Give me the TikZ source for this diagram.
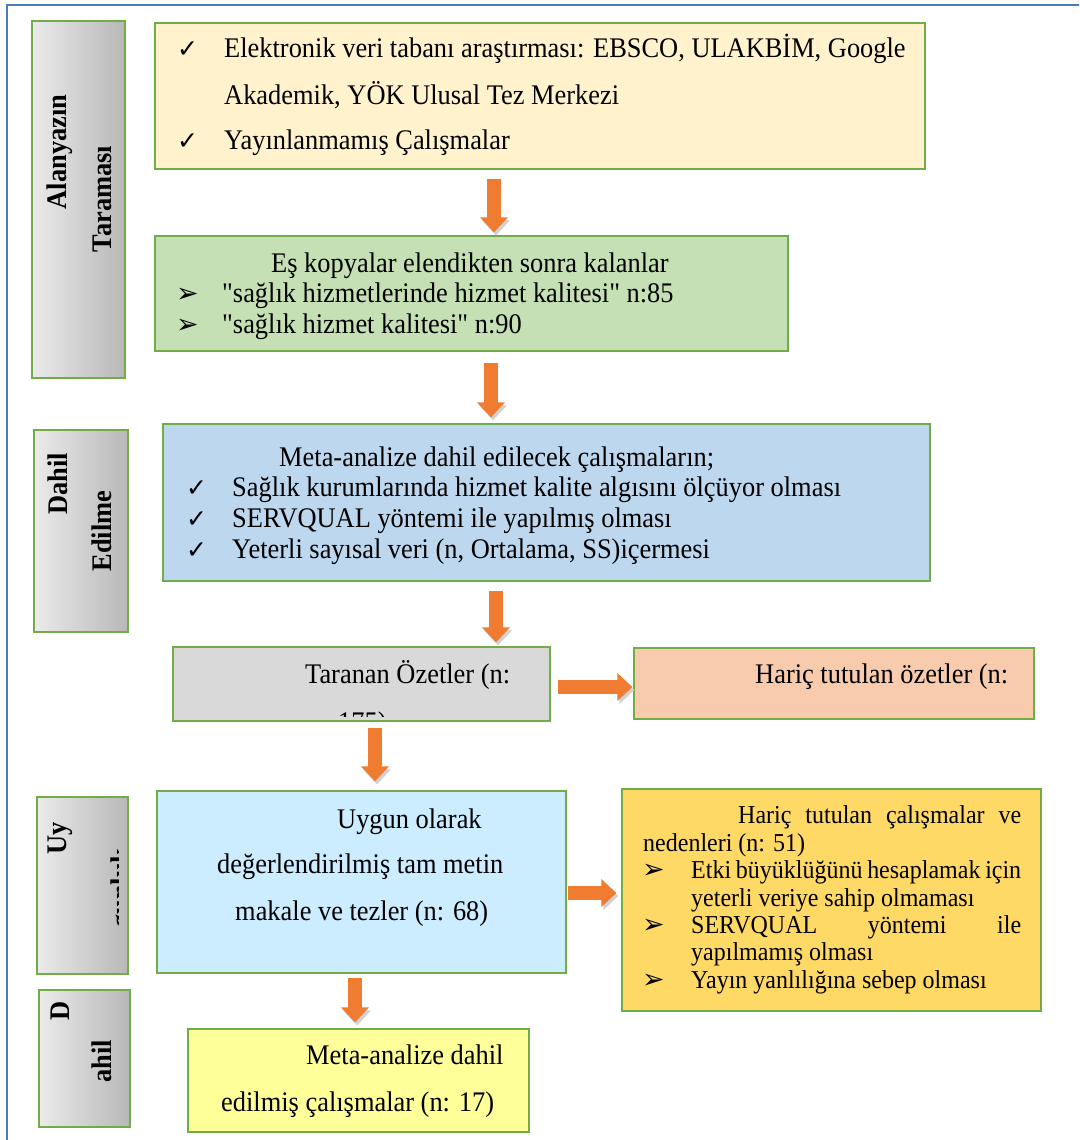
\documentclass[tikz,border=0pt]{standalone}
\usepackage{fontspec}
\setmainfont{Liberation Serif}
\newfontfamily\plainserif{Liberation Serif}[FakeStretch=0.93]
\newfontfamily\symfont{DejaVu Sans}
\usetikzlibrary{arrows.meta}

\definecolor{framebl}{HTML}{4A7EBB}
\definecolor{edgegr}{HTML}{70AD47}
\definecolor{litcol}{HTML}{FFF2CC}
\definecolor{dupcol}{HTML}{C5E0B4}
\definecolor{inccol}{HTML}{BDD7EE}
\definecolor{scrcol}{HTML}{D9D9D9}
\definecolor{exacol}{HTML}{F8CBAD}
\definecolor{fulcol}{HTML}{CCECFF}
\definecolor{exfcol}{HTML}{FFD966}
\definecolor{fincol}{HTML}{FFFF99}
\definecolor{arrowor}{HTML}{F07C32}

\newcommand{\chk}{{\symfont\fontsize{25}{25}\selectfont ✓}}
\newcommand{\arrb}{{\symfont\fontsize{27}{27}\selectfont ➢}}

\begin{document}
\begin{tikzpicture}[x=1pt,y=-1pt]
\tikzstyle{flowbox}=[rectangle, draw=edgegr, line width=1.2pt, inner sep=0pt]
\tikzstyle{sidebox}=[flowbox, left color=black!8, right color=black!28]
\tikzstyle{txt}=[anchor=base west, inner sep=0pt, font=\plainserif\fontsize{28.4}{32}\selectfont]
\tikzstyle{gtxt}=[txt, font=\plainserif\fontsize{25.8}{29}\selectfont]
\tikzstyle{sidetxt}=[rotate=90, inner sep=0pt, font=\plainserif\fontsize{28.4}{32}\selectfont\bfseries]
\tikzstyle{blk}=[draw=arrowor, line width=14pt, -{Triangle[width=27pt,length=15pt]},
    preaction={draw=black!18, transform canvas={shift={(2,3)}}}]

\useasboundingbox (0,0) rectangle (1079,1140);
\fill[white] (0,0) rectangle (1079,1140);

% outer frame, cut at the page edge
\begin{scope}
\clip (0,0) rectangle (1079,1140);
\draw[framebl, line width=2.5pt] (7,5) rectangle (1095,1160);
\end{scope}

% stage labels on the left
\node[sidebox, minimum width=93pt, minimum height=357pt] (lbla) at (78.5,199.5) {};
\node[sidebox, minimum width=94pt, minimum height=202pt] (lblb) at (81,531) {};
\node[sidebox, minimum width=91pt, minimum height=177pt] (lblc) at (82.5,885.5) {};
\node[sidebox, minimum width=91pt, minimum height=137pt] (lbld) at (84.5,1058.5) {};

\node[sidetxt] (lbla1) at (60,152) {Alanyazın};
\node[sidetxt] (lbla2) at (102,199) {Taraması};
\node[sidetxt] (lblb1) at (58,484) {Dahil};
\node[sidetxt] (lblb2) at (102,531) {Edilme};
\node[sidetxt] (lblc1) at (60,838) {Uy};
\begin{scope}
\clip (37,797) rectangle (118,974);
\node[sidetxt, anchor=base] (lblc2) at (130,888) {gunluk};
\end{scope}
\node[sidetxt] (lbld1) at (60,1011) {D};
\node[sidetxt] (lbld2) at (102,1061) {ahil};

% flow boxes
\node[flowbox, fill=litcol, minimum width=770pt, minimum height=146pt] (lit) at (540,96) {};
\node[flowbox, fill=dupcol, minimum width=633pt, minimum height=115pt] (dup) at (471.5,293.5) {};
\node[flowbox, fill=inccol, minimum width=767pt, minimum height=157pt] (incl) at (546.5,502.5) {};
\node[flowbox, fill=scrcol, minimum width=377pt, minimum height=74pt] (scr) at (361.5,684) {};
\node[flowbox, fill=exacol, minimum width=400pt, minimum height=71pt] (exa) at (834,683.5) {};
\node[flowbox, fill=fulcol, minimum width=409pt, minimum height=182pt] (full) at (361.5,882) {};
\node[flowbox, fill=exfcol, minimum width=419pt, minimum height=222pt] (exf) at (831.5,900) {};
\node[flowbox, fill=fincol, minimum width=341pt, minimum height=103pt] (fin) at (358.5,1080.5) {};

% literature search
\node[txt] (lit1) at (224,57) {Elektronik veri tabanı araştırması: EBSCO, ULAKBİM, Google};
\node[txt] (lit2) at (224,104) {Akademik, YÖK Ulusal Tez Merkezi};
\node[txt] (lit3) at (224,149) {Yayınlanmamış Çalışmalar};
\foreach \n in {1,3}
    \node[txt] (litc\n) at (177,0 |- lit\n.base) {\chk};

% duplicates removed
\node[txt] (dup0) at (271,272) {Eş kopyalar elendikten sonra kalanlar};
\foreach \y/\t [count=\i] in {302/{"sağlık hizmetlerinde hizmet kalitesi" n:85},
                               333/{"sağlık hizmet kalitesi" n:90}} {
    \node[txt] (dup\i) at (222,\y) {\t};
    \node[txt] (dupa\i) at (176,\y) {\arrb};
}

% inclusion criteria
\node[txt] (inc0) at (279,466) {Meta-analize dahil edilecek çalışmaların;};
\foreach \y/\t [count=\i] in {496/{Sağlık kurumlarında hizmet kalite algısını ölçüyor olması},
                               527/{SERVQUAL yöntemi ile yapılmış olması},
                               558/{Yeterli sayısal veri (n, Ortalama, SS)içermesi}} {
    \node[txt] (inc\i) at (232,\y) {\t};
    \node[txt] (incc\i) at (186,\y) {\chk};
}

% screened abstracts
\node[txt] (scr1) at (305,683) {Taranan Özetler (n:};
\begin{scope}
\clip (173,647) rectangle (550,716);
\node[txt] (scr2) at (338,731) {175)};
\end{scope}
\node[txt] (exa1) at (755,683) {Hariç tutulan özetler (n:};

% full texts
\node[txt] (ful1) at (337,828) {Uygun olarak};
\node[txt] (ful2) at (217,873) {değerlendirilmiş tam metin};
\node[txt] (ful3) at (235,920) {makale ve tezler (n: 68)};

% excluded studies
\node[gtxt] (exf0) at (738,823) {\makebox[283pt][s]{Hariç tutulan çalışmalar ve}};
\node[gtxt] (exf1) at (643,851) {nedenleri (n: 51)};
\node[gtxt] (exf2) at (691,878) {\makebox[330pt][s]{Etki büyüklüğünü hesaplamak için}};
\node[gtxt] (exf3) at (691,906) {yeterli veriye sahip olmaması};
\node[gtxt] (exf4) at (691,933) {\makebox[330pt][s]{SERVQUAL yöntemi ile}};
\node[gtxt] (exf5) at (691,960) {yapılmamış olması};
\node[gtxt] (exf6) at (691,988) {Yayın yanlılığına sebep olması};
\foreach \n in {2,4,6}
    \node[txt] (exfa\n) at (642,0 |- exf\n.base) {\arrb};

% included studies
\node[txt] (fin1) at (306,1064) {Meta-analize dahil};
\node[txt] (fin2) at (221,1111) {edilmiş çalışmalar (n: 17)};

% block arrows
\draw[blk, shorten <=9pt, shorten >=3pt] (494,0 |- lit.south) -- (494,0 |- dup.north);
\draw[blk, shorten <=11pt, shorten >=6pt] (491,0 |- dup.south) -- (491,0 |- incl.north);
\draw[blk, shorten <=9pt, shorten >=4pt] (496,0 |- incl.south) -- (496,0 |- scr.north);
\draw[blk, shorten <=7pt, shorten >=1pt] (scr.east |- 0,687) -- (exa.west |- 0,687);
\draw[blk, shorten <=6pt, shorten >=9pt] (375,0 |- scr.south) -- (375,0 |- full.north);
\draw[blk, shorten <=1pt, shorten >=5pt] (full.east |- 0,893) -- (exf.west |- 0,893);
\draw[blk, shorten <=4pt, shorten >=6pt] (355,0 |- full.south) -- (355,0 |- fin.north);

\end{tikzpicture}
\end{document}
